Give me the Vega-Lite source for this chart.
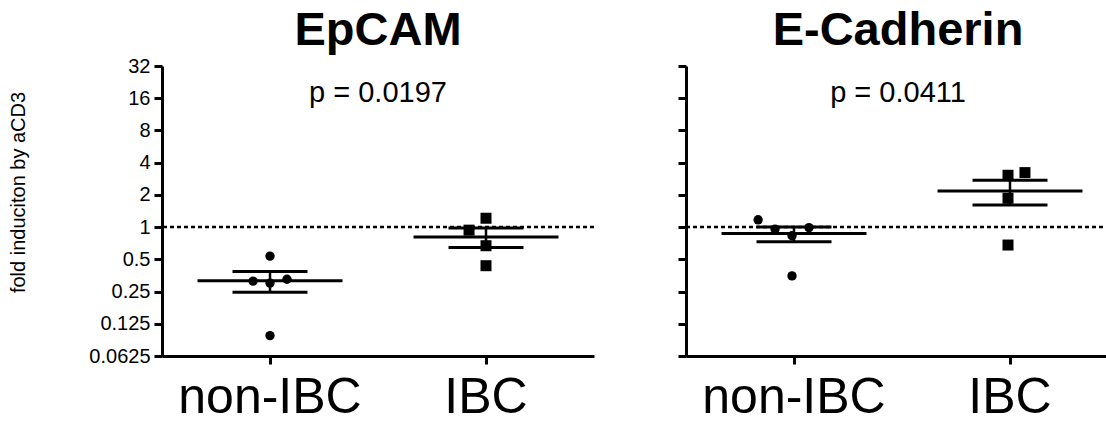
{
  "$schema": "https://vega.github.io/schema/vega-lite/v6.json",
  "background": "white",
  "padding": {"left": 8, "top": 7, "right": 0, "bottom": 0},
  "spacing": 16,
  "config": {
    "view": {"stroke": null},
    "font": "Liberation Sans",
    "axis": {"domainColor": "black", "domainWidth": 3, "tickColor": "black", "tickWidth": 3, "tickSize": 8, "labelColor": "black", "titleColor": "black", "grid": false, "labelFont": "Liberation Sans", "titleFont": "Liberation Sans", "labelLimit": 0},
    "title": {"fontSize": 47, "fontWeight": "bold", "color": "black", "font": "Liberation Sans", "offset": 1}
  },
  "datasets": {
    "pts": [
      {"marker": "EpCAM", "group": "non-IBC", "slot": 0, "value": 0.536},
      {"marker": "EpCAM", "group": "non-IBC", "slot": -1, "value": 0.313},
      {"marker": "EpCAM", "group": "non-IBC", "slot": 0, "value": 0.300},
      {"marker": "EpCAM", "group": "non-IBC", "slot": 1, "value": 0.326},
      {"marker": "EpCAM", "group": "non-IBC", "slot": 0, "value": 0.097},
      {"marker": "EpCAM", "group": "IBC", "slot": 0, "value": 1.21},
      {"marker": "EpCAM", "group": "IBC", "slot": -1, "value": 0.937},
      {"marker": "EpCAM", "group": "IBC", "slot": 0, "value": 0.67},
      {"marker": "EpCAM", "group": "IBC", "slot": 0, "value": 0.436},
      {"marker": "E-Cadherin", "group": "non-IBC", "slot": -2, "value": 1.17},
      {"marker": "E-Cadherin", "group": "non-IBC", "slot": -1, "value": 0.958},
      {"marker": "E-Cadherin", "group": "non-IBC", "slot": 0, "value": 0.83},
      {"marker": "E-Cadherin", "group": "non-IBC", "slot": 1, "value": 0.99},
      {"marker": "E-Cadherin", "group": "non-IBC", "slot": 0, "value": 0.35},
      {"marker": "E-Cadherin", "group": "IBC", "slot": 0, "value": 3.05},
      {"marker": "E-Cadherin", "group": "IBC", "slot": 1, "value": 3.23},
      {"marker": "E-Cadherin", "group": "IBC", "slot": 0, "value": 1.86},
      {"marker": "E-Cadherin", "group": "IBC", "slot": 0, "value": 0.68}
    ],
    "summ": [
      {"marker": "EpCAM", "group": "non-IBC", "mean": 0.316, "lo": 0.246, "hi": 0.384},
      {"marker": "EpCAM", "group": "IBC", "mean": 0.81, "lo": 0.645, "hi": 0.98},
      {"marker": "E-Cadherin", "group": "non-IBC", "mean": 0.87, "lo": 0.73, "hi": 1.0},
      {"marker": "E-Cadherin", "group": "IBC", "mean": 2.18, "lo": 1.61, "hi": 2.74}
    ],
    "pvals": [
      {"marker": "EpCAM", "p": "p = 0.0197", "ref": 1},
      {"marker": "E-Cadherin", "p": "p = 0.0411", "ref": 1}
    ]
  },
  "hconcat": [
    {
      "width": 432,
      "height": 290,
      "title": {"text": "EpCAM"},
      "layer": [
        {
          "data": {"name": "pvals"},
          "transform": [{"filter": "datum.marker === 'EpCAM'"}],
          "mark": {"type": "rule", "strokeDash": [4, 3], "strokeWidth": 2.5, "color": "black"},
          "encoding": {
            "y": {"field": "ref", "type": "quantitative", "title": "fold induciton by aCD3",
              "scale": {"type": "log", "base": 2, "domain": [0.0625, 32], "nice": false},
              "axis": {"values": [0.0625, 0.125, 0.25, 0.5, 1, 2, 4, 8, 16, 32], "format": "~g", "labelFontSize": 20, "labelPadding": 4, "titleFontSize": 20, "titleFontWeight": "normal", "titlePadding": 60, "titleY": 126}}
          }
        },
        {
          "data": {"name": "summ"},
          "transform": [{"filter": "datum.marker === 'EpCAM'"}],
          "mark": {"type": "rule", "strokeWidth": 2.5, "color": "black"},
          "encoding": {
            "x": {"field": "group", "type": "nominal", "title": null, "scale": {"domain": ["non-IBC", "IBC"], "paddingInner": 0.0926, "paddingOuter": 0.0463, "align": 0.5}, "axis": {"labelFontSize": 50, "labelPadding": 8, "labelAngle": 0, "labelLimit": 0}},
            "y": {"field": "lo", "type": "quantitative", "title": "fold induciton by aCD3"},
            "y2": {"field": "hi"}
          }
        },
        {
          "data": {"name": "summ"},
          "transform": [{"filter": "datum.marker === 'EpCAM'"}],
          "mark": {"type": "tick", "size": 145, "thickness": 3, "color": "black", "opacity": 1},
          "encoding": {
            "x": {"field": "group", "type": "nominal", "title": null},
            "y": {"field": "mean", "type": "quantitative", "title": "fold induciton by aCD3"}
          }
        },
        {
          "data": {"name": "summ"},
          "transform": [{"filter": "datum.marker === 'EpCAM'"}],
          "mark": {"type": "tick", "size": 75, "thickness": 3, "color": "black", "opacity": 1},
          "encoding": {
            "x": {"field": "group", "type": "nominal", "title": null},
            "y": {"field": "lo", "type": "quantitative", "title": "fold induciton by aCD3"}
          }
        },
        {
          "data": {"name": "summ"},
          "transform": [{"filter": "datum.marker === 'EpCAM'"}],
          "mark": {"type": "tick", "size": 75, "thickness": 3, "color": "black", "opacity": 1},
          "encoding": {
            "x": {"field": "group", "type": "nominal", "title": null},
            "y": {"field": "hi", "type": "quantitative", "title": "fold induciton by aCD3"}
          }
        },
        {
          "data": {"name": "pts"},
          "transform": [{"filter": "datum.marker === 'EpCAM' && datum.group === 'non-IBC'"}],
          "mark": {"type": "point", "shape": "circle", "filled": true, "size": 88, "color": "black", "opacity": 1},
          "encoding": {
            "x": {"field": "group", "type": "nominal", "title": null},
            "xOffset": {"field": "slot", "type": "quantitative", "scale": {"domain": [-5.665, 5.665], "nice": false, "zero": false}},
            "y": {"field": "value", "type": "quantitative", "title": "fold induciton by aCD3"}
          }
        },
        {
          "data": {"name": "pts"},
          "transform": [{"filter": "datum.marker === 'EpCAM' && datum.group === 'IBC'"}],
          "mark": {"type": "point", "shape": "square", "filled": true, "size": 121, "color": "black", "opacity": 1},
          "encoding": {
            "x": {"field": "group", "type": "nominal", "title": null},
            "xOffset": {"field": "slot", "type": "quantitative", "scale": {"domain": [-5.665, 5.665], "nice": false, "zero": false}},
            "y": {"field": "value", "type": "quantitative", "title": "fold induciton by aCD3"}
          }
        },
        {
          "data": {"name": "pvals"},
          "transform": [{"filter": "datum.marker === 'EpCAM'"}],
          "mark": {"type": "text", "fontSize": 29, "color": "black", "baseline": "middle"},
          "encoding": {
            "y": {"datum": 18},
            "text": {"field": "p"}
          }
        }
      ]
    },
    {
      "width": 424,
      "height": 290,
      "title": {"text": "E-Cadherin"},
      "layer": [
        {
          "data": {"name": "pvals"},
          "transform": [{"filter": "datum.marker === 'E-Cadherin'"}],
          "mark": {"type": "rule", "strokeDash": [4, 3], "strokeWidth": 2.5, "color": "black"},
          "encoding": {
            "y": {"field": "ref", "type": "quantitative", "title": null,
              "scale": {"type": "log", "base": 2, "domain": [0.0625, 32], "nice": false},
              "axis": {"values": [0.0625, 0.125, 0.25, 0.5, 1, 2, 4, 8, 16, 32], "format": "~g", "labelFontSize": 20, "labelPadding": 4, "labelOpacity": 0}}
          }
        },
        {
          "data": {"name": "summ"},
          "transform": [{"filter": "datum.marker === 'E-Cadherin'"}],
          "mark": {"type": "rule", "strokeWidth": 2.5, "color": "black"},
          "encoding": {
            "x": {"field": "group", "type": "nominal", "title": null, "scale": {"domain": ["non-IBC", "IBC"], "paddingInner": 0.0741, "paddingOuter": 0.01855, "align": 1}, "axis": {"labelFontSize": 50, "labelPadding": 8, "labelAngle": 0, "labelLimit": 0}},
            "y": {"field": "lo", "type": "quantitative", "title": null},
            "y2": {"field": "hi"}
          }
        },
        {
          "data": {"name": "summ"},
          "transform": [{"filter": "datum.marker === 'E-Cadherin'"}],
          "mark": {"type": "tick", "size": 145, "thickness": 3, "color": "black", "opacity": 1},
          "encoding": {
            "x": {"field": "group", "type": "nominal", "title": null},
            "y": {"field": "mean", "type": "quantitative", "title": null}
          }
        },
        {
          "data": {"name": "summ"},
          "transform": [{"filter": "datum.marker === 'E-Cadherin'"}],
          "mark": {"type": "tick", "size": 75, "thickness": 3, "color": "black", "opacity": 1},
          "encoding": {
            "x": {"field": "group", "type": "nominal", "title": null},
            "y": {"field": "lo", "type": "quantitative", "title": null}
          }
        },
        {
          "data": {"name": "summ"},
          "transform": [{"filter": "datum.marker === 'E-Cadherin'"}],
          "mark": {"type": "tick", "size": 75, "thickness": 3, "color": "black", "opacity": 1},
          "encoding": {
            "x": {"field": "group", "type": "nominal", "title": null},
            "y": {"field": "hi", "type": "quantitative", "title": null}
          }
        },
        {
          "data": {"name": "pts"},
          "transform": [{"filter": "datum.marker === 'E-Cadherin' && datum.group === 'non-IBC'"}],
          "mark": {"type": "point", "shape": "circle", "filled": true, "size": 88, "color": "black", "opacity": 1},
          "encoding": {
            "x": {"field": "group", "type": "nominal", "title": null},
            "xOffset": {"field": "slot", "type": "quantitative", "scale": {"domain": [-5.78, 5.78], "nice": false, "zero": false}},
            "y": {"field": "value", "type": "quantitative", "title": null}
          }
        },
        {
          "data": {"name": "pts"},
          "transform": [{"filter": "datum.marker === 'E-Cadherin' && datum.group === 'IBC'"}],
          "mark": {"type": "point", "shape": "square", "filled": true, "size": 121, "color": "black", "opacity": 1},
          "encoding": {
            "x": {"field": "group", "type": "nominal", "title": null},
            "xOffset": {"field": "slot", "type": "quantitative", "scale": {"domain": [-5.78, 5.78], "nice": false, "zero": false}},
            "y": {"field": "value", "type": "quantitative", "title": null}
          }
        },
        {
          "data": {"name": "pvals"},
          "transform": [{"filter": "datum.marker === 'E-Cadherin'"}],
          "mark": {"type": "text", "fontSize": 29, "color": "black", "baseline": "middle"},
          "encoding": {
            "y": {"datum": 18},
            "text": {"field": "p"}
          }
        }
      ]
    }
  ]
}
